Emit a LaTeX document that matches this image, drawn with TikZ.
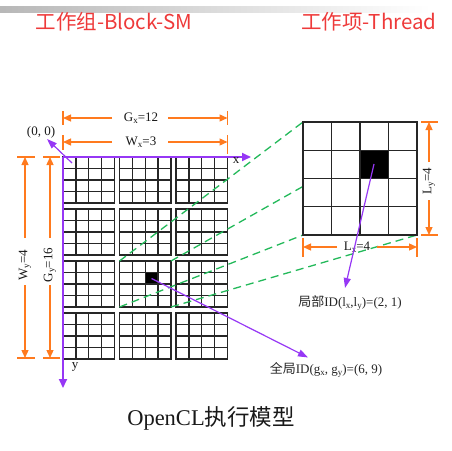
\documentclass[tikz,border=0pt]{standalone}
\usepackage{fontspec}
\setmainfont{Liberation Serif}
\newfontfamily\cjk{Noto Sans CJK SC}
\usetikzlibrary{arrows.meta}
\definecolor{tred}{RGB}{238,58,58}
\definecolor{dimor}{RGB}{255,122,30}
\definecolor{axpur}{RGB}{150,55,245}
\definecolor{dgreen}{RGB}{35,185,90}
\newcommand\sbx[1]{\raisebox{-0.3ex}{\fontsize{9}{9}\selectfont #1}}
\begin{document}
\begin{tikzpicture}[x=1pt,y=-1pt,
  gridln/.style={line width=1.4pt, black!85, line cap=rect},
  dimln/.style={dimor, line width=1.3pt},
  dimarrow/.style={dimln, -{Triangle[length=8pt,width=7pt]}},
  purarrow/.style={axpur, line width=1.2pt, -{Triangle[length=10pt,width=7pt]}},
  axisln/.style={axpur, line width=1.8pt},
  axisarrow/.style={axisln, -{Triangle[length=9pt,width=8pt]}},
  gdash/.style={dgreen, line width=1.3pt, dash pattern=on 8pt off 5pt},
  dimlab/.style={font=\fontsize{13}{13}\selectfont, inner sep=0pt, text=black!90},
  idlab/.style={font=\fontsize{13}{13}\selectfont, inner sep=0pt, text=black!85},
  ttl/.style={font=\cjk\fontsize{20.5}{20.5}\selectfont, text=tred, inner sep=0pt}]
\useasboundingbox (0,0) rectangle (452,450);
% top gray bar
\shade[left color=black!28, right color=white] (0,6.5) rectangle (430,12);
% titles
\node[ttl] (t1) at (114,22) {工作组-Block-SM};
\node[ttl] (t2) at (369,22) {工作项-Thread};
% highlighted small cell
\fill[black] (145.25,272.5) rectangle (158.125,284);
% small blocks
\foreach \xo in {63,119.5,176} {
  \foreach \yo in {157,209,261,313} {
    \foreach \i in {0,...,4} {
      \draw[gridln] (\xo+\i*12.875,\yo) -- (\xo+\i*12.875,\yo+46);
      \draw[gridln] (\xo,\yo+\i*11.5) -- (\xo+51.5,\yo+\i*11.5);
    }
  }
}
% block corners and big grid corners
\coordinate (btl) at (119.5,261);
\coordinate (btr) at (171,261);
\coordinate (bbl) at (119.5,307);
\coordinate (bbr) at (171,307);
\coordinate (Gtl) at (303,122);
\coordinate (Gtr) at (417,122);
\coordinate (Gbl) at (303,235);
\coordinate (Gbr) at (417,235);
% green dashed lines
\draw[gdash] (btl) -- (Gtl);
\draw[gdash] (btr) -- (Gtr);
\draw[gdash] (bbl) -- (Gbl);
\draw[gdash] (bbr) -- (Gbr);
% big grid
\fill[white] (Gtl) rectangle (Gbr);
\fill[black] (360,150.25) rectangle (388.5,178.5);
\foreach \i in {0,...,4} {
  \draw[gridln] (303+\i*28.5,122) -- (303+\i*28.5,235);
  \draw[gridln] (303,122+\i*28.25) -- (417,122+\i*28.25);
}
% dimension Gx
\draw[dimln] (63,111) -- (63,125);
\draw[dimln] (227.5,111) -- (227.5,125);
\coordinate (gxL) at (63,118);
\coordinate (gxR) at (227.5,118);
\coordinate (gx1) at (112,118);
\coordinate (gx2) at (168,118);
\node[dimlab] (gxlab) at (141,118) {G\sbx{x}=12};
\draw[dimarrow] (gx1) -- (gxL);
\draw[dimarrow] (gx2) -- (gxR);
% dimension Wx
\draw[dimln] (63,135) -- (63,150);
\draw[dimln] (227.5,135) -- (227.5,154);
\coordinate (wxL) at (63,142);
\coordinate (wxR) at (227.5,142);
\coordinate (wx1) at (112,142);
\coordinate (wx2) at (168,142);
\node[dimlab] (wxlab) at (141,142) {W\sbx{x}=3};
\draw[dimarrow] (wx1) -- (wxL);
\draw[dimarrow] (wx2) -- (wxR);
% dimension Wy
\draw[dimln] (17,157) -- (35,157);
\draw[dimln] (17,358) -- (35,358);
\coordinate (wyT) at (25,157);
\coordinate (wyB) at (25,358);
\coordinate (wy1) at (25,238);
\coordinate (wy2) at (25,285);
\node[dimlab, rotate=90] (wylab) at (25,265) {W\sbx{y}=4};
\draw[dimarrow] (wy1) -- (wyT);
\draw[dimarrow] (wy2) -- (wyB);
% dimension Gy
\draw[dimln] (43,157) -- (60,157);
\draw[dimln] (43,358) -- (60,358);
\coordinate (gyT) at (50,157);
\coordinate (gyB) at (50,358);
\coordinate (gy1) at (50,238);
\coordinate (gy2) at (50,285);
\node[dimlab, rotate=90] (gylab) at (50,265) {G\sbx{y}=16};
\draw[dimarrow] (gy1) -- (gyT);
\draw[dimarrow] (gy2) -- (gyB);
% dimension Ly
\draw[dimln] (421,122) -- (438,122);
\draw[dimln] (421,235) -- (438,235);
\coordinate (lyT) at (429,122);
\coordinate (lyB) at (429,235);
\coordinate (ly1) at (429,162);
\coordinate (ly2) at (429,200);
\node[dimlab, rotate=90] (lylab) at (429,181) {L\sbx{y}=4};
\draw[dimarrow] (ly1) -- (lyT);
\draw[dimarrow] (ly2) -- (lyB);
% dimension Lx
\draw[dimln] (303,238) -- (303,257);
\draw[dimln] (417,238) -- (417,257);
\coordinate (lxL) at (303,247);
\coordinate (lxR) at (417,247);
\coordinate (lx1) at (337,247);
\coordinate (lx2) at (377,247);
\node[dimlab] (lxlab) at (357,247) {L\sbx{x}=4};
\draw[dimarrow] (lx1) -- (lxL);
\draw[dimarrow] (lx2) -- (lxR);
% axes
\coordinate (O) at (63,157);
\coordinate (xend) at (251,157);
\coordinate (yend) at (63,388);
\draw[axisarrow] (O) -- (xend);
\draw[axisarrow] (O) -- (yend);
\node[dimlab] (xlab) at (236,161) {x};
\node[dimlab] (ylab) at (75,367) {y};
\node[dimlab] (olab) at (41,132) {(0, 0)};
\coordinate (oa) at (72,163);
\coordinate (ob) at (47,139);
\draw[purarrow] (oa) -- (ob);
% id arrows
\coordinate (sc) at (151.5,278.5);
\coordinate (se) at (308,357.5);
\coordinate (bc) at (374,164);
\coordinate (be) at (345,288);
\draw[purarrow] (sc) -- (se);
\draw[purarrow] (bc) -- (be);
\node[idlab] (lid) at (350,303) {{\cjk 局部}ID(l\sbx{x},l\sbx{y})=(2, 1)};
\node[idlab] (gid) at (326,370) {{\cjk 全局}ID(g\sbx{x}, g\sbx{y})=(6, 9)};
% caption
\node[inner sep=0pt, font=\fontsize{22.5}{22.5}\selectfont, text=black!90] (cap) at (211,418) {OpenCL{\cjk 执行模型}};
\end{tikzpicture}
\end{document}
